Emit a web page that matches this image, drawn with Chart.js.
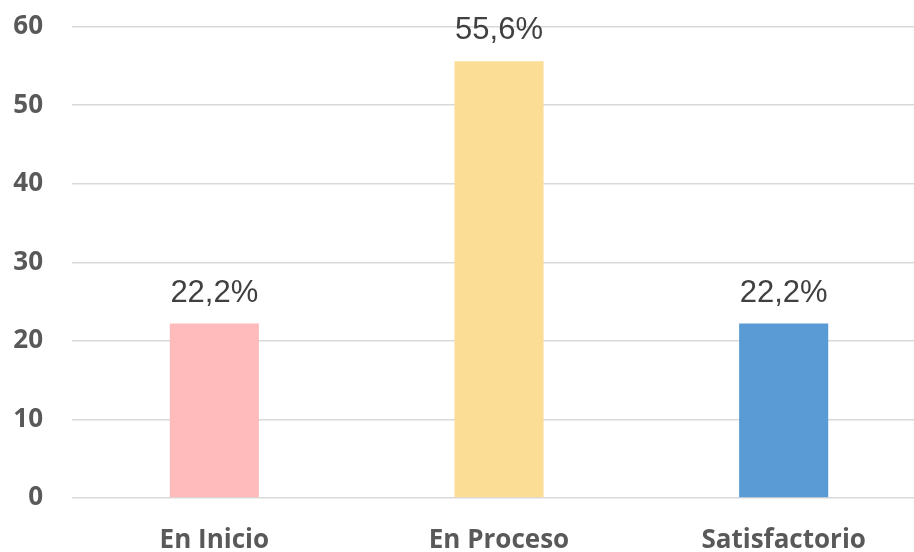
<!DOCTYPE html>
<html>
<head>
<meta charset="utf-8">
<script src="https://cdn.jsdelivr.net/npm/chart.js@4"></script>
<style>
  html, body { margin: 0; padding: 0; background: #fff; overflow: hidden; }
  .chart-container { position: relative; width: 926px; height: 570px; margin-top: -18px; }
</style>
</head>
<body>
<div class="chart-container">
  <canvas id="chart"></canvas>
</div>
<script>
const categories = ['En Inicio', 'En Proceso', 'Satisfactorio'];
const percentages = [22.2, 55.6, 22.2];
const barColors = ['#FFBBBB', '#FCDD96', '#5B9BD5'];

// draws "22,2%" style labels above each bar
const valueLabels = {
  id: 'valueLabels',
  afterDatasetsDraw(chart) {
    const ctx = chart.ctx;
    const meta = chart.getDatasetMeta(0);
    ctx.save();
    ctx.font = '31px "Liberation Sans", Arial, sans-serif';
    ctx.fillStyle = '#404040';
    ctx.textAlign = 'center';
    ctx.textBaseline = 'alphabetic';
    meta.data.forEach((bar, i) => {
      const text = percentages[i].toFixed(1).replace('.', ',') + '%';
      ctx.fillText(text, bar.x, bar.y - 22);
    });
    ctx.restore();
  }
};

new Chart(document.getElementById('chart'), {
  type: 'bar',
  data: {
    labels: categories,
    datasets: [{
      data: percentages,
      backgroundColor: barColors,
      borderWidth: 0,
      barPercentage: 1,
      categoryPercentage: 0.313
    }]
  },
  options: {
    responsive: true,
    maintainAspectRatio: false,
    animation: false,
    layout: { padding: { top: 9, right: 0, left: 0, bottom: 0 } },
    plugins: {
      legend: { display: false },
      tooltip: { enabled: false }
    },
    scales: {
      x: {
        afterFit(scale) { scale.height = 54; },
        grid: { display: false, drawTicks: false },
        border: { display: false },
        ticks: {
          color: '#595959',
          padding: 27,
          font: { family: '"Open Sans", sans-serif', size: 26, weight: 'bold' }
        }
      },
      y: {
        min: 0,
        max: 60,
        afterFit(scale) { scale.width = 72; },
        grid: { color: '#D9D9D9', lineWidth: 1.5, drawTicks: false },
        border: { display: false },
        ticks: {
          stepSize: 10,
          color: '#595959',
          padding: 29,
          font: { family: '"Open Sans", sans-serif', size: 26, weight: 'bold' }
        }
      }
    }
  },
  plugins: [valueLabels]
});
</script>
</body>
</html>
